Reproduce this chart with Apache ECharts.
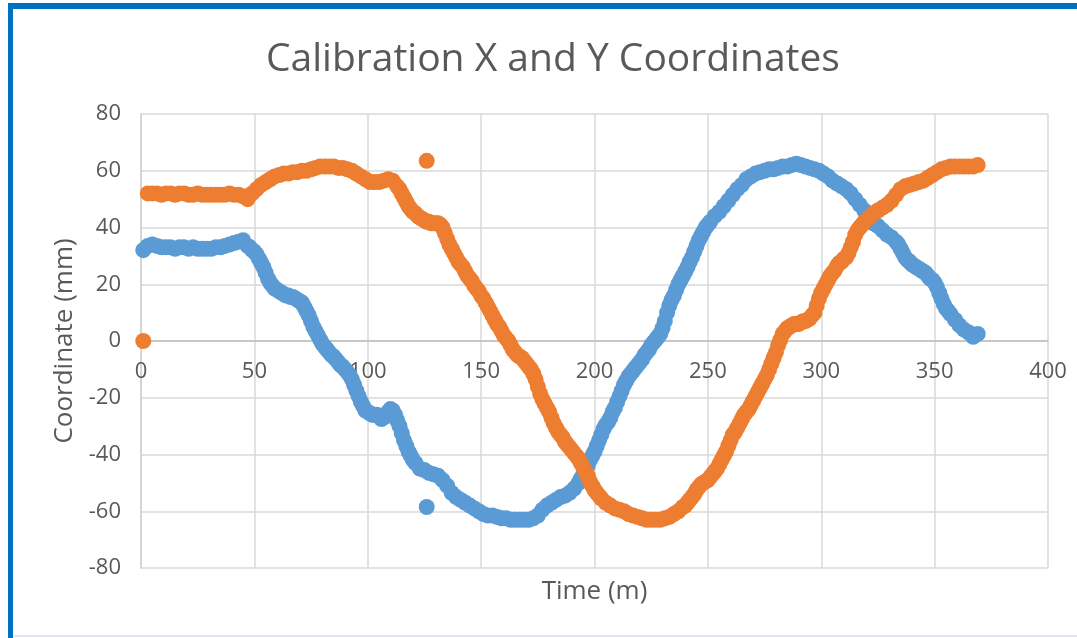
<!DOCTYPE html>
<html><head><meta charset="utf-8">
<script src="https://cdn.jsdelivr.net/npm/echarts@6/dist/echarts.min.js"></script>
<style>html,body{margin:0;padding:0;background:#fff}#c{width:1077px;height:638px}</style>
</head><body><div id="c"></div>
<script>
const chartTitle = 'Calibration X and Y Coordinates';
const xAxisName = 'Time (m)';
const yAxisName = 'Coordinate (mm)';

// main readings, every 2 minutes
const timeMinutes = [1,3,5,7,9,11,13,15,17,19,21,23,25,27,29,31,33,35,37,39,41,43,45,47,49,51,53,55,57,59,61,63,65,67,69,71,73,75,77,79,81,83,85,87,89,91,93,95,97,99,101,103,105,107,109,111,113,115,117,119,121,123,125,127,129,131,133,135,137,139,141,143,145,147,149,151,153,155,157,159,161,163,165,167,169,171,173,175,177,179,181,183,185,187,189,191,193,195,197,199,201,203,205,207,209,211,213,215,217,219,221,223,225,227,229,231,233,235,237,239,241,243,245,247,249,251,253,255,257,259,261,263,265,267,269,271,273,275,277,279,281,283,285,287,289,291,293,295,297,299,301,303,305,307,309,311,313,315,317,319,321,323,325,327,329,331,333,335,337,339,341,343,345,347,349,351,353,355,357,359,361,363,365,367,369];

const xCoordinate = [32,33.5,34,33.5,33,33,33,32.5,33,33,32.5,33,32.5,32.5,32.5,32.5,33,33,33.5,34,34.5,35,35.5,33.5,32,30.5,27.5,24,20.5,18.5,17.5,16.5,16,15.5,14.5,13.5,10.5,7,3.5,0.5,-2,-4,-5.5,-7.5,-9,-11,-13.5,-17.5,-21.5,-24.5,-25.5,-26,-26.5,-27,-25,-24.5,-28,-32.5,-37,-40.5,-43,-45,-45.5,-46.5,-47,-47.5,-49,-51,-53.5,-55,-56,-57,-58,-59,-60,-61,-61.5,-61.5,-62,-62.5,-62.5,-63,-63,-63,-63,-63,-62.5,-61.5,-59.5,-58,-57,-56,-55,-54.5,-53.5,-52,-50,-47,-44,-40.5,-37,-33,-29.5,-27,-23.5,-19.5,-15.5,-12.5,-10.5,-8.5,-6.5,-4,-1.5,0.5,2.5,7,12.5,16,20,23,26,29.5,33.5,37,40,42,44,45.5,47.5,49.5,51.5,53.5,55,57,58,59,59.5,60,60.5,60.5,61,61.5,61.5,62,62.5,62,61.5,61,60.5,60,59,58,56.5,55.5,54.5,53.5,52,50,48,46,43.5,41.5,40.5,39,37.5,36.5,35,32.5,29.5,28,26.5,25.5,24.5,23,21.5,19,15,11.5,9.5,7.5,5.5,4,3,1.5,2.5];

const yCoordinate = [0,52,52,52,51.5,52,52,51.5,52,52,51.5,51.5,52,51.5,51.5,51.5,51.5,51.5,51.5,52,51.5,51.5,51,50,52,53.5,55,56,57,58,58.5,59,59,59.5,59.5,60,60,60.5,61,61.5,61.5,61.5,61.5,61,61,60.5,60,59,58,57,56,56,56,56.5,57,56.5,54.5,52,49,46.5,45,43.5,42.5,42,41.5,41.5,40,36,32.5,29.5,27,24.5,22,19.5,17.5,15,12,9,6,3.5,1,-1.5,-4,-5.5,-7,-9,-11.5,-16,-20.5,-23.5,-27,-30.5,-33,-35.5,-37.5,-39.5,-41.5,-44.5,-47.5,-51,-53.5,-55.5,-57,-58,-59,-59.5,-60,-61,-61.5,-62,-62.5,-63,-63,-63,-63,-62.5,-62,-61,-60,-58.5,-57,-55,-52.5,-50.5,-49.5,-48,-46,-43.5,-40.5,-37,-33,-30.5,-27.5,-25,-22.5,-19.5,-16.5,-13.5,-10,-6,-1.5,2.5,4.5,5.5,6,6.5,7,8,10,15,18.5,21.5,24,26.5,28,29.5,33,37.5,40,42,43.5,45,46,47,48,49.5,51.5,53.5,54.5,55,55.5,56,56.5,57.5,58.5,59.5,60.5,61,61.5,61.5,61.5,61.5,61.5,61.5,62];

// extra readings (even minutes) where the traces are steep
const xExtraTime = [48,50,52,54,56,58,60,62,64,66,68,70,72,74,76,78,80,82,84,86,88,90,92,94,96,98,100,102,104,106,108,110,112,114,116,118,120,
  194,196,198,200,202,204,206,208,210,212,214,216,218,220,222,224,226,228,230,232,234,236,238,240,242,244,246,248,250,
  334,336,338,340,342,344,346,348,350,352,354,356];
const xExtraValue = [33,31.5,29,26,22,19.5,18,17,16,15.5,15,14,12,9,5,2,-1,-3,-5,-6.5,-8.5,-10,-12,-15.5,-19.5,-23,-25,-26,-26,-27.5,-26,-24,-26,-30,-35,-39,-42,
  -48.5,-45.5,-42,-39,-35,-31,-28.5,-25,-21.5,-17.5,-14,-11.5,-9.5,-7.5,-5,-3,-0.5,1.5,4.5,10,14.5,18,21.5,24.5,28,31.5,35.5,38.5,41,
  34,31,28.5,27,26,25,24,22,20.5,17,13,10.5];

const yExtraTime = [114,116,118,120,122,124,126,128,130,132,134,136,138,140,142,144,146,148,150,152,154,156,158,160,162,164,166,168,170,172,174,176,178,180,182,184,186,188,190,192,194,196,198,200,202,
  240,242,244,246,248,250,252,254,256,258,260,262,264,266,268,270,272,274,276,278,280,282,284,286,288,290,292,294,296,298,300,302,304,306,308,310,312,314,316,318];
const yExtraValue = [53.5,50.5,47.5,45.5,44,43,42,41.5,41.5,41,38,34,31,28,26,23,21,18.5,16,13.5,10.5,7.5,5,2,0,-3,-5,-6,-8,-10,-13.5,-18.5,-22,-25,-29,-32,-34,-36.5,-38.5,-40.5,-43,-46,-49.5,-52.5,-54.5,
  -58,-56,-54,-51.5,-50,-49,-47,-45,-42,-39,-35,-32,-29,-26,-24,-21,-18,-15,-12,-8,-4,0.5,3.5,5,6,6,7,7.5,9,12.5,17,20,23,25,27.5,29,31,35,39,41];

// single glitch reading
const glitchTime = [126];
const glitchX = [-58.5];
const glitchY = [63.5];

const xTickLabels = ['0','50','100','150','200','250','300','350','400'];
const yTickLabels = ['-80','-60','-40','-20','0','20','40','60','80'];

function pairs(ts, vs) { return ts.map((t, i) => [t, vs[i]]); }
const blueData = pairs(timeMinutes, xCoordinate).concat(pairs(xExtraTime, xExtraValue), pairs(glitchTime, glitchX));
const orangeData = pairs(timeMinutes, yCoordinate).concat(pairs(yExtraTime, yExtraValue), pairs(glitchTime, glitchY));

const FONT = 'Open Sans';
const TXT = '#595959';
const GRID_TOP = 114, GRID_BOTTOM = 70, H = 638;
const plotH = H - GRID_TOP - GRID_BOTTOM;
const chart = echarts.init(document.getElementById('c'));
chart.setOption({
  animation: false,
  backgroundColor: '#ffffff',
  title: {
    text: chartTitle, left: 261, top: 35,
    textStyle: { fontFamily: FONT, fontSize: 39, fontWeight: 'normal', color: TXT }
  },
  grid: { left: 141, right: 29, top: GRID_TOP, bottom: GRID_BOTTOM, containLabel: false, outerBoundsMode: 'none' },
  xAxis: {
    type: 'value', min: 0, max: 400, interval: 50,
    position: 'bottom', offset: -plotH / 2,
    name: xAxisName, nameLocation: 'middle', nameGap: 238,
    nameTextStyle: { fontFamily: FONT, fontSize: 26, color: TXT },
    axisLine: { show: true, onZero: false, lineStyle: { color: '#bfbfbf', width: 1.5 } },
    axisTick: { show: false },
    axisLabel: { fontFamily: FONT, fontSize: 22, color: TXT, margin: 20,
      formatter: (v) => xTickLabels[Math.round(v / 50)] },
    splitLine: { show: true, lineStyle: { color: '#d9d9d9', width: 1.5 } }
  },
  yAxis: {
    type: 'value', min: -80, max: 80, interval: 20,
    name: yAxisName, nameLocation: 'middle', nameGap: 62, nameRotate: 90,
    nameTextStyle: { fontFamily: FONT, fontSize: 26, color: TXT },
    axisLine: { show: true, onZero: false, lineStyle: { color: '#d0d0d0', width: 1.5 } },
    axisTick: { show: false },
    axisLabel: { fontFamily: FONT, fontSize: 22, color: TXT, margin: 20,
      formatter: (v) => yTickLabels[Math.round((v + 80) / 20)] },
    splitLine: { show: true, lineStyle: { color: '#d9d9d9', width: 1.5 } }
  },
  graphic: [
    { type: 'rect', shape: { x: 8, y: 3, width: 5, height: 635 }, style: { fill: '#0070C0' }, silent: true },
    { type: 'rect', shape: { x: 8, y: 3, width: 1069, height: 6 }, style: { fill: '#0070C0' }, silent: true },
    { type: 'rect', shape: { x: 13, y: 635, width: 1064, height: 2 }, style: { fill: '#dfe8f2' }, silent: true }
  ],
  series: [
    { name: 'X', type: 'scatter', data: blueData, symbol: 'circle', symbolSize: 16,
      itemStyle: { color: '#5B9BD5', opacity: 1 } },
    { name: 'Y', type: 'scatter', data: orangeData, symbol: 'circle', symbolSize: 16,
      itemStyle: { color: '#ED7D31', opacity: 1 } }
  ]
});
</script>
</body></html>
